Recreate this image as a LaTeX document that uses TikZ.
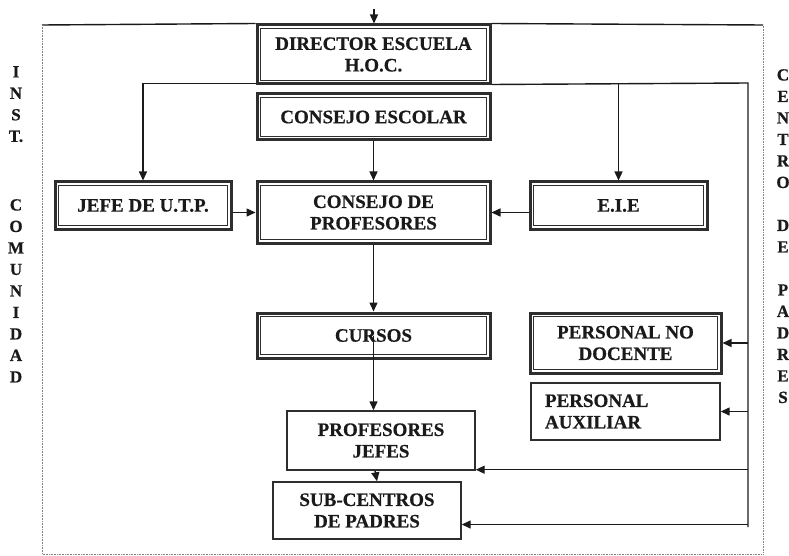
\documentclass[tikz,border=0pt]{standalone}
\usepackage{fontspec}
\setmainfont{Liberation Serif}[BoldFeatures={FakeBold=0.6}]
\usetikzlibrary{arrows.meta}
\definecolor{ink}{HTML}{1A1A1A}
\definecolor{frame}{HTML}{2E2E2E}
\begin{document}
\begin{tikzpicture}[x=1pt,y=-1pt,
  txt/.style={font=\bfseries\fontsize{19}{21.5}\selectfont, align=center, inner sep=0pt, text=ink},
  sbox/.style={txt, draw=frame, line width=1.4pt},
  dbox/.style={txt, draw=frame, line width=3pt,
    path picture={\draw[line width=1pt, frame]
      ([shift={(3.4pt,-3.4pt)}]path picture bounding box.north west) rectangle
      ([shift={(-3.4pt,3.4pt)}]path picture bounding box.south east);}},
  side/.style={font=\bfseries\fontsize{17}{21.5}\selectfont, align=center, inner sep=0pt, text=ink, anchor=north},
  ln/.style={draw=ink, line width=1.4pt},
  arr/.style={ln, -{Triangle[length=9pt,width=8pt]}},
  dots/.style={draw=black!50, line width=0.9pt, dash pattern=on 0.9pt off 0.7pt}
]
\useasboundingbox (0,0) rectangle (789,556);

% boxes
\node[dbox, minimum width=233pt, minimum height=59pt] (dir) at (373.5,54.5) {DIRECTOR ESCUELA\\H.O.C.};
\node[dbox, minimum width=233pt, minimum height=46pt] (esc) at (373.5,117) {CONSEJO ESCOLAR};
\node[dbox, minimum width=233pt, minimum height=61pt] (prof) at (373.5,212.5) {CONSEJO DE\\PROFESORES};
\node[dbox, minimum width=176pt, minimum height=47pt] (jefe) at (143,205.5) {JEFE DE U.T.P.};
\node[dbox, minimum width=177pt, minimum height=47pt] (eie) at (618.5,205.5) {E.I.E};
\node[dbox, minimum width=233pt, minimum height=45pt] (cursos) at (373.5,335.5) {CURSOS};
\node[dbox, minimum width=191pt, minimum height=60pt] (pnd) at (625.5,343) {PERSONAL NO\\DOCENTE};
\node[sbox, minimum width=189pt, minimum height=57pt, text width=161pt, inner xsep=14pt, align=left] (paux) at (625.5,411.5) {PERSONAL\\AUXILIAR};
\node[sbox, minimum width=188pt, minimum height=59pt] (pj) at (381,440.5) {PROFESORES\\JEFES};
\node[sbox, minimum width=188pt, minimum height=57pt] (sub) at (367,510.5) {SUB-CENTROS\\DE PADRES};

% side labels
\node[side] (inst) at (16,66) {I\\N\\S\\T.};
\node[side] (comu) at (16,199) {C\\O\\M\\U\\N\\I\\D\\A\\D};
\node[side] (cdp) at (783,69) {C\\E\\N\\T\\R\\O\\[21.5pt]D\\E\\[21.5pt]P\\A\\D\\R\\E\\S};

% outer frame
\coordinate (fTL) at (42,25);
\coordinate (fTR) at (763,25);
\coordinate (fBL) at (42,554);
\coordinate (fBR) at (763,554);
\draw[ln] (fTL) -- (dir.north west);
\draw[ln] (dir.north east) -- (fTR);
\draw[dots] (fTL) -- (fBL) -- (fBR) -- (fTR);

% top incoming arrow
\coordinate (topin) at (374,9);
\draw[arr] (topin) -- (topin |- dir.north);

% connectors
\coordinate (rtop) at (748,83);
\coordinate (rbot) at (748,527);
\draw[ln] ([yshift=1pt]dir.south east) -- (rtop) -- (rbot);
\draw[arr] (rtop -| eie.north) -- (eie.north);
\draw[arr] ([yshift=2pt]dir.south west) -| (jefe.north);
\draw[arr] (esc.south) -- (prof.north);
\draw[arr] (prof.west -| jefe.east) -- (prof.west);
\draw[arr] (prof.east -| eie.west) -- (prof.east);
\draw[arr] (prof.south) -- (cursos.north);
\draw[arr] (cursos.center) -- (cursos.center |- pj.north);
\draw[arr] ([xshift=-6pt]pj.south) -- ([xshift=10pt]sub.north);
\draw[arr] (rbot |- pnd.east) -- (pnd.east);
\draw[arr] (rbot |- paux.east) -- (paux.east);
\coordinate (pjin) at ([yshift=1pt]pj.south east);
\draw[arr] (pjin -| rbot) -- (pjin);
\coordinate (subin) at ([yshift=-14pt]sub.east);
\draw[arr] (subin -| rbot) -- (subin);
\end{tikzpicture}
\end{document}
